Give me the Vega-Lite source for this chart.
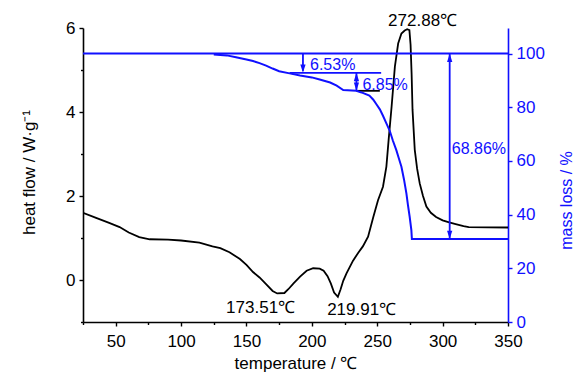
{
  "$schema": "https://vega.github.io/schema/vega-lite/v6.json",
  "width": 425,
  "height": 294,
  "autosize": {"type": "none"},
  "padding": {"left": 83, "top": 28, "right": 68, "bottom": 50},
  "background": "white",
  "config": {
    "view": {"stroke": null},
    "font": "Liberation Sans, Arial, sans-serif",
    "axis": {
      "labelFont": "Liberation Sans, Arial, sans-serif",
      "titleFont": "Liberation Sans, Arial, sans-serif",
      "labelFontSize": 17,
      "titleFontSize": 17,
      "titleFontWeight": "normal",
      "grid": false,
      "domainWidth": 1.6,
      "tickWidth": 1.4
    }
  },
  "datasets": {
    "dsc": [
      {"T": 25, "v": 1.6}, {"T": 35, "v": 1.48}, {"T": 45, "v": 1.36}, {"T": 53, "v": 1.26},
      {"T": 60, "v": 1.13}, {"T": 68, "v": 1.02}, {"T": 76, "v": 0.97}, {"T": 90, "v": 0.96},
      {"T": 100, "v": 0.94}, {"T": 114, "v": 0.89}, {"T": 124, "v": 0.8}, {"T": 130, "v": 0.76},
      {"T": 137, "v": 0.66}, {"T": 145, "v": 0.5}, {"T": 150, "v": 0.36}, {"T": 155, "v": 0.19},
      {"T": 160, "v": 0.06}, {"T": 165, "v": -0.1}, {"T": 170, "v": -0.26}, {"T": 173.5, "v": -0.32},
      {"T": 179, "v": -0.31}, {"T": 182, "v": -0.22}, {"T": 186, "v": -0.08}, {"T": 191, "v": 0.08},
      {"T": 196, "v": 0.22}, {"T": 201, "v": 0.28}, {"T": 206, "v": 0.27}, {"T": 209, "v": 0.22},
      {"T": 212, "v": 0.09}, {"T": 214.5, "v": -0.08}, {"T": 217, "v": -0.3}, {"T": 219.9, "v": -0.4},
      {"T": 222, "v": -0.22}, {"T": 224, "v": -0.02}, {"T": 226.5, "v": 0.16}, {"T": 231.5, "v": 0.46},
      {"T": 235.5, "v": 0.65}, {"T": 239, "v": 0.8}, {"T": 243, "v": 1.03}, {"T": 247, "v": 1.5},
      {"T": 250.6, "v": 1.9}, {"T": 254.4, "v": 2.22}, {"T": 257, "v": 2.7}, {"T": 258.7, "v": 3.33},
      {"T": 261, "v": 4.13}, {"T": 263.5, "v": 5.08}, {"T": 266, "v": 5.63}, {"T": 268.5, "v": 5.87},
      {"T": 271, "v": 5.94}, {"T": 272.9, "v": 5.97}, {"T": 274.6, "v": 5.95}, {"T": 275.5, "v": 5.6},
      {"T": 276.3, "v": 4.9}, {"T": 277, "v": 4.05}, {"T": 278.7, "v": 3.1}, {"T": 280.5, "v": 2.65},
      {"T": 282.5, "v": 2.3}, {"T": 285, "v": 2.0}, {"T": 287.6, "v": 1.75}, {"T": 291, "v": 1.6},
      {"T": 295, "v": 1.5}, {"T": 300, "v": 1.42}, {"T": 305, "v": 1.37}, {"T": 310, "v": 1.33},
      {"T": 316, "v": 1.28}, {"T": 320, "v": 1.26}, {"T": 350, "v": 1.25}
    ],
    "dscLabels": [
      {"T": 284.7, "v": 6.17, "label": "272.88℃"},
      {"T": 160.8, "v": -0.67, "label": "173.51℃"},
      {"T": 238.1, "v": -0.71, "label": "219.91℃"}
    ],
    "tg": [
      {"T": 125, "m": 99.6}, {"T": 135, "m": 99.3}, {"T": 142, "m": 98.6}, {"T": 150, "m": 97.8},
      {"T": 155, "m": 97.2}, {"T": 160, "m": 96.4}, {"T": 165, "m": 95.5}, {"T": 170, "m": 94.4},
      {"T": 175, "m": 93.4}, {"T": 183, "m": 92.6}, {"T": 191, "m": 91.8}, {"T": 200, "m": 91.1},
      {"T": 206, "m": 90.3}, {"T": 214, "m": 89.2}, {"T": 219, "m": 88.0}, {"T": 224, "m": 86.4},
      {"T": 234, "m": 86.1}, {"T": 238, "m": 85.5}, {"T": 244, "m": 84.3}, {"T": 247, "m": 82.8},
      {"T": 249.5, "m": 81.0}, {"T": 252, "m": 79.2}, {"T": 254.4, "m": 76.8}, {"T": 257, "m": 74.0},
      {"T": 259.5, "m": 71.3}, {"T": 262, "m": 67.5}, {"T": 264.6, "m": 64.0}, {"T": 266.5, "m": 61.0},
      {"T": 268.5, "m": 57.8}, {"T": 270.5, "m": 53.0}, {"T": 272.3, "m": 47.9}, {"T": 273.5, "m": 43.5},
      {"T": 274.8, "m": 39.2}, {"T": 276.1, "m": 34.2}, {"T": 276.5, "m": 30.9}, {"T": 350, "m": 30.9}
    ],
    "blueLines": [
      {"T": 25, "T2": 350, "m": 100},
      {"T": 183, "T2": 253, "m": 92.8}
    ],
    "blackLines": [
      {"T": 234, "T2": 252, "m": 86.1}
    ],
    "shafts": [
      {"T": 193.2, "m": 100, "m2": 93.6},
      {"T": 234.1, "m": 92.8, "m2": 86.1},
      {"T": 305.4, "m": 100, "m2": 30.9}
    ],
    "heads": [
      {"T": 193.2, "m": 92.8, "dir": "down"},
      {"T": 234.1, "m": 92.8, "dir": "up"},
      {"T": 234.1, "m": 86.1, "dir": "down"},
      {"T": 305.4, "m": 100, "dir": "up"},
      {"T": 305.4, "m": 30.9, "dir": "down"}
    ],
    "pctLabels": [
      {"T": 198.6, "m": 95.9, "label": "6.53%"},
      {"T": 238.7, "m": 88.2, "label": "6.85%"},
      {"T": 307, "m": 64.6, "label": "68.86%"}
    ]
  },
  "encoding": {
    "x": {
      "field": "T", "type": "quantitative",
      "scale": {"domain": [25, 350], "nice": false, "zero": false},
      "axis": {
        "title": "temperature / ℃",
        "values": [25, 50, 75, 100, 125, 150, 175, 200, 225, 250, 275, 300, 325, 350],
        "labelExpr": "datum.value % 50 === 0 ? datum.label : ''",
        "tickSize": {"condition": {"test": "datum.value % 50 === 0", "value": 4}, "value": 2.5},
        "domainColor": "black", "tickColor": "black", "labelColor": "black", "titleColor": "black",
        "labelPadding": 7,
        "titleBaseline": "alphabetic",
        "titleY": 46,
        "labelFlush": false,
        "labelOverlap": false
      }
    }
  },
  "resolve": {"scale": {"y": "independent"}, "axis": {"y": "independent"}},
  "layer": [
    {
      "layer": [
        {
          "data": {"name": "dsc"},
          "mark": {"type": "line", "color": "black", "strokeWidth": 1.8, "clip": true},
          "encoding": {
            "y": {
              "field": "v", "type": "quantitative",
              "scale": {"domain": [-1, 6], "nice": false, "zero": false},
              "axis": {
                "title": "heat flow / W·g⁻¹",
                "orient": "left",
                "values": [-1, 0, 1, 2, 3, 4, 5, 6],
                "labelExpr": "datum.value % 2 === 0 ? datum.label : ''",
                "tickSize": {"condition": {"test": "datum.value % 2 === 0", "value": 4}, "value": 2.5},
                "domainColor": "black", "tickColor": "black", "labelColor": "black", "titleColor": "black",
                "labelPadding": 4,
                "titleAngle": 270,
                "titleBaseline": "middle",
                "titleX": -54,
                "titleY": 144,
                "labelFlush": false,
                "labelOverlap": false
              }
            }
          }
        },
        {
          "data": {"name": "dscLabels"},
          "mark": {"type": "text", "color": "black", "fontSize": 17, "align": "center", "baseline": "middle"},
          "encoding": {
            "y": {"field": "v", "type": "quantitative"},
            "text": {"field": "label"}
          }
        }
      ]
    },
    {
      "layer": [
        {
          "data": {"name": "blueLines"},
          "mark": {"type": "rule", "color": "#1010ff", "strokeWidth": 1.8},
          "encoding": {
            "x2": {"field": "T2"},
            "y": {
              "field": "m", "type": "quantitative",
              "scale": {"domain": [0, 109.5], "nice": false, "zero": false},
              "axis": {
                "title": "mass loss / %",
                "orient": "right",
                "values": [0, 10, 20, 30, 40, 50, 60, 70, 80, 90, 100],
                "labelExpr": "datum.value % 20 === 0 ? datum.label : ''",
                "tickSize": {"condition": {"test": "datum.value % 20 === 0", "value": 4}, "value": 2.5},
                "domainColor": "#1010ff", "tickColor": "#1010ff", "labelColor": "#1010ff", "titleColor": "#1010ff",
                "labelPadding": 4,
                "titleAngle": 270,
                "titleBaseline": "middle",
                "titleFontSize": 16,
                "titleX": 58,
                "titleY": 172,
                "labelFlush": false,
                "labelOverlap": false
              }
            }
          }
        },
        {
          "data": {"name": "blackLines"},
          "mark": {"type": "rule", "color": "black", "strokeWidth": 1.8},
          "encoding": {
            "x2": {"field": "T2"},
            "y": {"field": "m", "type": "quantitative"}
          }
        },
        {
          "data": {"name": "tg"},
          "mark": {"type": "line", "color": "#1010ff", "strokeWidth": 2},
          "encoding": {
            "y": {"field": "m", "type": "quantitative"}
          }
        },
        {
          "data": {"name": "shafts"},
          "mark": {"type": "rule", "color": "#1010ff", "strokeWidth": 1.8},
          "encoding": {
            "y": {"field": "m", "type": "quantitative"},
            "y2": {"field": "m2"}
          }
        },
        {
          "data": {"name": "heads"},
          "mark": {"type": "point", "filled": true, "color": "#1010ff", "size": 49, "opacity": 1, "strokeWidth": 0},
          "encoding": {
            "y": {"field": "m", "type": "quantitative"},
            "shape": {
              "field": "dir", "type": "nominal",
              "scale": {"domain": ["up", "down"], "range": ["M-0.75,2.4L0.75,2.4L0,0Z", "M-0.75,-2.4L0.75,-2.4L0,0Z"]},
              "legend": null
            }
          }
        },
        {
          "data": {"name": "pctLabels"},
          "mark": {"type": "text", "color": "#1010ff", "fontSize": 16, "align": "left", "baseline": "middle"},
          "encoding": {
            "y": {"field": "m", "type": "quantitative"},
            "text": {"field": "label"}
          }
        }
      ]
    }
  ]
}
